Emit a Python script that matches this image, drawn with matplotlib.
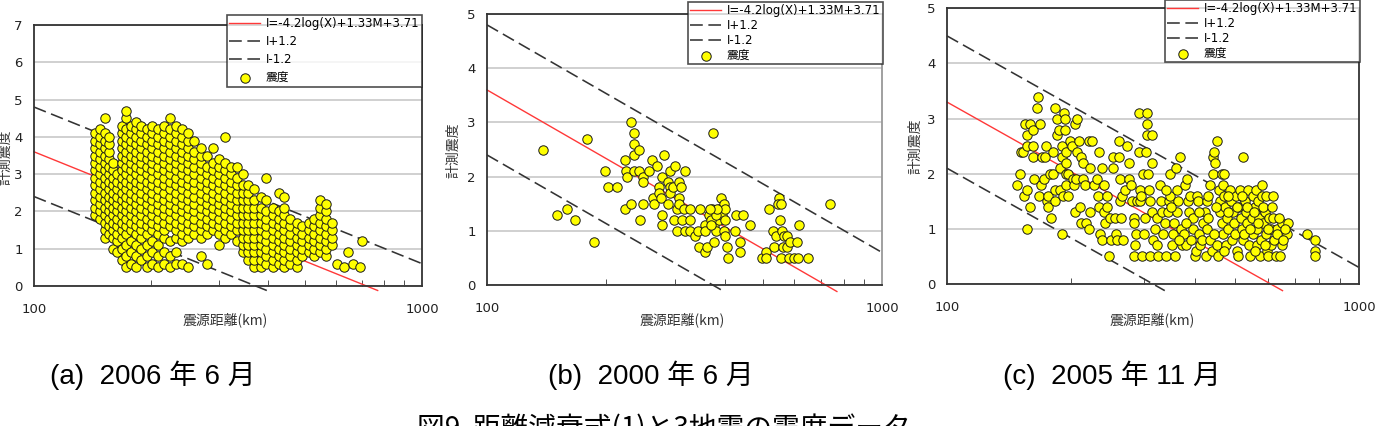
import numpy as np
import matplotlib
matplotlib.use('Agg')
from matplotlib import pyplot as plt
from matplotlib.ticker import FixedLocator, NullFormatter

# ---- data: hypocentral distance (km) and seismic intensity
# (a) 2006-06 : dense cloud, listed per distance column
a_cols = [
    (144, [1.9, 2.1, 2.3, 2.5, 2.7, 2.9, 3.1, 3.3, 3.5, 3.7, 3.9, 4.1]),
    (148, [1.8, 2.0, 2.2, 2.4, 2.6, 2.8, 3.0, 3.2, 3.4, 3.6, 3.8, 4.0, 4.2]),
    (152, [1.3, 1.5, 1.7, 1.9, 2.1, 2.3, 2.5, 2.7, 2.9, 3.1, 3.3, 3.5, 3.7, 3.9, 4.1, 4.5]),
    (156, [1.4, 1.6, 1.8, 2.0, 2.2, 2.4, 2.6, 2.8, 3.0, 3.2, 3.4, 3.6, 3.8, 4.0]),
    (160, [1.0, 1.3, 1.5, 1.7, 1.9, 2.1, 2.3, 2.5, 2.7, 2.9, 3.1, 3.3]),
    (164, [0.9, 1.2, 1.4, 1.6, 1.8, 2.0, 2.2, 2.4, 2.6, 2.8, 3.0]),
    (169, [0.7, 1.0, 1.3, 1.5, 1.7, 1.9, 2.1, 2.3, 2.5, 2.7, 2.9, 3.1, 3.3, 3.5, 3.7, 3.9, 4.1, 4.3]),
    (173, [0.5, 0.8, 1.1, 1.4, 1.6, 1.8, 2.0, 2.2, 2.4, 2.6, 2.8, 3.0, 3.2, 3.4, 3.6, 3.8, 4.0, 4.2, 4.5, 4.7]),
    (178, [0.6, 0.9, 1.2, 1.5, 1.7, 1.9, 2.1, 2.3, 2.5, 2.7, 2.9, 3.1, 3.3, 3.5, 3.7, 3.9, 4.1, 4.3]),
    (183, [0.5, 0.8, 1.1, 1.4, 1.6, 1.8, 2.0, 2.2, 2.4, 2.6, 2.8, 3.0, 3.2, 3.4, 3.6, 3.8, 4.0, 4.2, 4.4]),
    (189, [0.7, 1.0, 1.3, 1.5, 1.7, 1.9, 2.1, 2.3, 2.5, 2.7, 2.9, 3.1, 3.3, 3.5, 3.7, 3.9, 4.1, 4.3]),
    (195, [0.5, 0.8, 1.1, 1.4, 1.6, 1.8, 2.0, 2.2, 2.4, 2.6, 2.8, 3.0, 3.2, 3.4, 3.6, 3.8, 4.0, 4.2]),
    (202, [0.6, 0.9, 1.2, 1.5, 1.7, 1.9, 2.1, 2.3, 2.5, 2.7, 2.9, 3.1, 3.3, 3.5, 3.7, 3.9, 4.1, 4.3]),
    (209, [0.5, 0.8, 1.1, 1.4, 1.6, 1.8, 2.0, 2.2, 2.4, 2.6, 2.8, 3.0, 3.2, 3.4, 3.6, 3.8, 4.0, 4.2]),
    (216, [0.6, 0.9, 1.3, 1.5, 1.7, 1.9, 2.1, 2.3, 2.5, 2.7, 2.9, 3.1, 3.3, 3.5, 3.7, 3.9, 4.1, 4.3]),
    (224, [0.5, 0.8, 1.2, 1.6, 1.8, 2.0, 2.2, 2.4, 2.6, 2.8, 3.0, 3.2, 3.4, 3.6, 3.8, 4.0, 4.2, 4.5]),
    (232, [0.6, 0.9, 1.3, 1.5, 1.7, 1.9, 2.1, 2.3, 2.5, 2.7, 2.9, 3.1, 3.3, 3.5, 3.7, 3.9, 4.1, 4.3]),
    (241, [0.6, 1.2, 1.4, 1.6, 1.8, 2.0, 2.2, 2.4, 2.6, 2.8, 3.0, 3.2, 3.4, 3.6, 3.8, 4.0, 4.2]),
    (250, [0.5, 1.3, 1.5, 1.7, 1.9, 2.1, 2.3, 2.5, 2.7, 2.9, 3.1, 3.3, 3.5, 3.7, 3.9, 4.1]),
    (259, [1.4, 1.6, 1.8, 2.0, 2.2, 2.4, 2.6, 2.8, 3.0, 3.2, 3.4, 3.6, 3.9]),
    (269, [0.8, 1.3, 1.5, 1.7, 1.9, 2.1, 2.3, 2.5, 2.7, 2.9, 3.1, 3.3, 3.5, 3.7]),
    (279, [0.6, 1.4, 1.6, 1.8, 2.0, 2.2, 2.4, 2.6, 2.8, 3.0, 3.2, 3.5]),
    (289, [1.5, 1.7, 1.9, 2.1, 2.3, 2.5, 2.7, 2.9, 3.1, 3.3, 3.7]),
    (299, [1.1, 1.4, 1.6, 1.8, 2.0, 2.2, 2.4, 2.6, 2.8, 3.0, 3.2, 3.4]),
    (310, [1.3, 1.5, 1.7, 1.9, 2.1, 2.3, 2.5, 2.7, 2.9, 3.1, 3.3, 4.0]),
    (321, [1.4, 1.6, 1.8, 2.0, 2.2, 2.4, 2.6, 2.8, 3.0, 3.2]),
    (333, [1.2, 1.5, 1.7, 1.9, 2.1, 2.3, 2.5, 2.7, 2.9, 3.2]),
    (345, [0.9, 1.1, 1.3, 1.5, 1.7, 1.9, 2.1, 2.3, 2.5, 2.7, 3.0]),
    (357, [0.7, 0.9, 1.1, 1.3, 1.5, 1.7, 1.9, 2.1, 2.3, 2.5, 2.7]),
    (370, [0.5, 0.7, 0.9, 1.1, 1.3, 1.5, 1.7, 1.9, 2.1, 2.3, 2.6]),
    (384, [0.5, 0.7, 0.9, 1.1, 1.3, 1.5, 1.7, 1.9, 2.1, 2.4]),
    (397, [0.6, 0.8, 1.0, 1.2, 1.4, 1.6, 1.8, 2.0, 2.3, 2.9]),
    (412, [0.5, 0.7, 0.9, 1.1, 1.3, 1.5, 1.7, 1.9, 2.1]),
    (427, [0.6, 0.8, 1.0, 1.2, 1.4, 1.6, 1.8, 2.0, 2.5]),
    (442, [0.5, 0.7, 0.9, 1.1, 1.3, 1.5, 1.7, 1.9, 2.1, 2.4]),
    (458, [0.6, 0.8, 1.0, 1.2, 1.4, 1.6, 1.8]),
    (475, [0.5, 0.7, 0.9, 1.1, 1.3, 1.5, 1.7]),
    (492, [0.8, 1.0, 1.2, 1.4, 1.6]),
    (510, [0.9, 1.1, 1.3, 1.5, 1.7]),
    (528, [0.8, 1.0, 1.2, 1.4, 1.6, 1.8]),
    (547, [0.9, 1.1, 1.3, 1.5, 1.7, 1.9, 2.1, 2.3]),
    (567, [0.8, 1.0, 1.2, 1.4, 1.6, 1.8, 2.0, 2.2]),
    (587, [1.1, 1.3, 1.5, 1.7]),
    (605, [0.6]), (628, [0.5]), (646, [0.9]), (665, [0.6]), (693, [0.5]), (702, [1.2]),
]

# (b) 2000-06
b_pts = [
    (139, 2.5), (150, 1.3), (159, 1.4), (167, 1.2), (179, 2.7), (187, 0.8), (199, 2.1),
    (202, 1.8), (213, 1.8), (223, 2.3), (225, 2.1), (226, 2.0), (223, 1.4), (231, 3.0),
    (235, 2.8), (236, 2.6), (235, 2.4), (243, 2.5), (231, 1.5), (236, 2.1), (242, 2.1),
    (244, 1.2), (248, 2.0), (248, 1.9), (248, 1.5), (257, 2.1), (261, 2.3), (263, 1.6),
    (264, 1.5), (269, 2.2), (272, 1.8), (272, 1.7), (276, 1.6), (278, 2.0), (281, 2.4),
    (278, 1.3), (278, 1.1), (288, 1.9), (288, 1.5), (290, 1.8), (291, 1.7), (290, 2.1),
    (299, 2.2), (295, 1.8), (297, 1.2), (302, 1.4), (303, 1.0), (306, 1.9), (307, 1.6),
    (309, 1.8), (306, 1.5), (312, 1.2), (315, 1.4), (317, 2.1), (317, 1.0), (327, 1.4),
    (327, 1.2), (326, 1.0), (336, 0.9), (342, 1.0), (345, 0.7), (347, 1.4), (356, 1.1),
    (356, 0.6), (361, 0.7), (357, 1.0), (373, 2.8), (371, 1.4), (375, 1.3), (371, 1.2),
    (375, 1.1), (375, 0.8), (379, 1.0), (386, 1.4), (387, 1.2), (393, 1.3), (392, 1.6),
    (397, 1.5), (400, 1.4), (401, 1.2), (397, 1.0), (401, 0.9), (405, 0.7), (408, 0.5),
    (365, 1.3), (368, 1.2), (380, 1.3), (383, 1.4), (366, 1.4), (370, 1.1),
    (425, 1.0), (427, 1.3), (445, 1.3), (436, 0.8), (436, 0.6), (464, 1.1), (497, 0.5),
    (509, 0.6), (509, 0.5), (516, 1.4), (529, 1.0), (540, 0.9), (534, 0.7), (548, 1.6),
    (544, 1.5), (555, 1.5), (553, 1.2), (558, 1.0), (564, 0.9), (555, 0.5), (562, 0.7),
    (575, 0.7), (575, 0.9), (586, 0.8), (580, 0.5), (598, 0.5), (609, 0.8), (615, 1.1),
    (613, 0.5), (650, 0.5), (740, 1.5),
]

# (c) 2005-11
c_pts = [
    (148, 1.8), (150, 2.0), (151, 2.4), (153, 2.4), (154, 1.6), (156, 1.7), (155, 2.9),
    (156, 2.7), (156, 2.5), (156, 1.0), (159, 2.9), (159, 1.4), (162, 2.8), (162, 2.5),
    (162, 2.3), (163, 1.9), (165, 3.2), (166, 3.4), (167, 1.6), (168, 2.9), (170, 2.3),
    (169, 1.8), (172, 1.9), (173, 2.3), (174, 2.5), (175, 1.5), (176, 1.6), (176, 1.4),
    (178, 2.0), (179, 1.2), (181, 2.4), (181, 2.0), (183, 3.2), (183, 1.5), (183, 1.7),
    (185, 3.0), (185, 2.7), (187, 2.8), (188, 1.7), (188, 2.1), (190, 2.5), (190, 2.3),
    (190, 0.9), (191, 1.6), (192, 3.1), (193, 3.0), (193, 2.8), (194, 2.0), (195, 1.8),
    (195, 2.4), (195, 2.2), (197, 2.0), (197, 1.6), (199, 2.6), (201, 2.5), (202, 1.9),
    (203, 1.8), (204, 1.3), (205, 2.9), (206, 1.9), (207, 2.4), (207, 3.0), (209, 2.6),
    (210, 1.4), (211, 1.1), (212, 2.3), (214, 1.9), (214, 2.2), (216, 1.8), (218, 1.1),
    (221, 1.0), (221, 2.6), (223, 2.1), (223, 1.3), (225, 2.6), (227, 1.8), (231, 1.9),
    (233, 1.6), (234, 2.4), (234, 1.4), (235, 0.9), (238, 2.1), (238, 0.8), (240, 1.8),
    (241, 1.3), (242, 1.1), (244, 1.4), (245, 1.6), (247, 0.5), (248, 1.2), (250, 0.8),
    (253, 2.3), (253, 2.1), (256, 1.2), (257, 0.9), (258, 0.8), (261, 2.3), (262, 2.6),
    (263, 1.9), (263, 1.5), (264, 1.2), (266, 1.6), (268, 0.8), (271, 1.7), (273, 2.5),
    (276, 1.9), (277, 2.2), (279, 1.8), (281, 1.5), (284, 1.2), (285, 1.1), (286, 0.7),
    (284, 0.5), (288, 0.9), (289, 1.5), (292, 2.4), (292, 3.1), (294, 1.7), (294, 1.5),
    (295, 1.6), (297, 0.5), (299, 2.0), (300, 0.9), (303, 1.2), (304, 2.4), (305, 3.1),
    (305, 2.9), (306, 2.7), (308, 2.0), (310, 1.7), (311, 1.5), (311, 0.5), (314, 2.7),
    (314, 2.2), (314, 1.3), (317, 0.8), (320, 1.0), (323, 1.2), (324, 0.7), (326, 0.5),
    (329, 1.8), (330, 1.5), (332, 1.3), (334, 0.9), (338, 1.1), (341, 0.5), (343, 1.3),
    (345, 1.5), (347, 2.0), (348, 1.6), (351, 0.7), (353, 0.9), (356, 1.1), (358, 0.5),
    (359, 2.1), (361, 1.3), (362, 1.7), (364, 1.5), (368, 2.3), (369, 1.0), (371, 0.7),
    (375, 0.9), (378, 1.8), (380, 0.7), (382, 1.9), (385, 1.5), (387, 1.3), (389, 1.6),
    (392, 0.8), (396, 1.0), (400, 0.5), (402, 0.6), (404, 1.6), (407, 1.5), (410, 0.9),
    (411, 0.7), (415, 0.8), (419, 1.1), (423, 1.3), (425, 0.5), (427, 1.5), (428, 1.0),
    (431, 1.6), (435, 0.8), (436, 1.8), (439, 0.6), (441, 2.0), (441, 2.3), (445, 2.4),
    (447, 2.2), (451, 0.7), (453, 2.6), (455, 0.5), (458, 1.7), (460, 1.5), (461, 1.3),
    (464, 2.0), (464, 1.1), (467, 0.9), (468, 1.8), (470, 1.6), (473, 1.4), (475, 0.7),
    (477, 1.2), (482, 1.0), (486, 1.7), (488, 1.5), (491, 0.8), (495, 1.3), (497, 1.1),
    (500, 0.9), (503, 1.6), (505, 0.6), (509, 0.5), (512, 1.4), (514, 1.7), (516, 1.2),
    (519, 1.0), (522, 2.3), (524, 0.8), (529, 1.5), (532, 1.3), (534, 1.1), (539, 1.7),
    (542, 0.7), (544, 0.5), (549, 1.2), (552, 1.6), (554, 0.9), (559, 1.4), (562, 1.7),
    (564, 1.0), (566, 0.7), (569, 1.5), (573, 1.2), (575, 0.5), (577, 0.8), (580, 1.8),
    (580, 1.6), (586, 1.1), (591, 1.3), (596, 0.9), (599, 0.6), (602, 0.5), (605, 1.2),
    (610, 1.0), (613, 0.7), (619, 1.2), (621, 0.8), (628, 0.5), (631, 1.0), (633, 0.9),
    (643, 0.5), (649, 0.7), (649, 1.1), (667, 0.9), (673, 1.1), (746, 0.9), (781, 0.8),
    (781, 0.6), (781, 0.5),
    (430, 1.2), (445, 0.9), (450, 1.4), (470, 0.6), (480, 1.3), (505, 1.4), (520, 1.6),
    (525, 0.9), (535, 1.4), (545, 1.0), (555, 1.3), (560, 0.6), (570, 1.1), (585, 1.4),
    (590, 0.7), (595, 1.6), (600, 1.0), (615, 1.4), (620, 1.6), (640, 1.2), (655, 0.8),
    (660, 1.0), (395, 1.2), (410, 1.3), (380, 1.1), (365, 0.8), (350, 1.4), (340, 1.7),
    (470, 2.0), (482, 1.6),
]

# attenuation formula I = -4.2 log(X) + const ; value at X = 100 km per quake
slope = -4.2
i_at_100 = [3.6, 3.6, 3.3]
band = 1.2
y_tops = [7, 5, 5]

legend_labels = ['I=-4.2log(X)+1.33M+3.71', 'I+1.2', 'I-1.2', '震度']
captions = ['(a)  2006 年 6 月', '(b)  2000 年 6 月', '(c)  2005 年 11 月']
title = '図9  距離減衰式(1)と3地震の震度データ'

a_dist = [d for d, vals in a_cols for v in vals]
a_int = [v for d, vals in a_cols for v in vals]
b_dist, b_int = zip(*b_pts)
c_dist, c_int = zip(*c_pts)
panels = [(a_dist, a_int), (b_dist, b_int), (c_dist, c_int)]

# layout (figure fractions)
rects = [[0.0246, 0.3286, 0.2810, 0.6127],
         [0.3526, 0.3310, 0.2861, 0.6361],
         [0.6857, 0.3333, 0.2984, 0.6472]]
leg_anchor = [(0.1644, 0.9648), (0.4982, 0.9953), (0.8436, 1.0)]
leg_space = [0.42, 0.15, 0.15]
ylab_x = [-0.001, 0.3235, 0.6575]
ylab_y = [0.63, 0.648, 0.657]
xlab_x = [0.163, 0.494, 0.834]
cap_x = [0.036, 0.397, 0.726]

jp = 'Noto Sans CJK JP'
sans = ['DejaVu Sans', jp]

fig = plt.figure(figsize=(13.81, 4.26), dpi=100)

for k in range(3):
    ax = fig.add_axes(rects[k])
    km, inten = panels[k]
    c0 = i_at_100[k] - slope * 2

    handles = []
    for off, col, ls, lw in [(0, '#ff3838', '-', 1.0), (band, '#333333', (0, (8, 3.5)), 1.15),
                             (-band, '#333333', (0, (8, 3.5)), 1.15)]:
        x_end = min(1000, 10 ** ((c0 + off + 0.12) / -slope))
        xs = np.array([100, x_end])
        ys = c0 + off + slope * np.log10(xs)
        ln, = ax.plot(xs, ys, color=col, ls=ls, lw=lw, zorder=2, clip_on=False)
        handles.append(ln)

    sc = ax.scatter(km, inten, s=46, c='#ffff00', edgecolors='#1a1a1a',
                    linewidths=0.7, zorder=3)
    handles.append(sc)

    ax.set_xscale('log')
    ax.set_xlim(100, 1000)
    ax.set_ylim(0, y_tops[k])
    ax.set_xticks([100, 1000])
    ax.set_xticklabels(['100', '1000'])
    ax.xaxis.set_minor_locator(FixedLocator(range(200, 1000, 100)))
    ax.xaxis.set_minor_formatter(NullFormatter())
    ax.set_yticks(range(y_tops[k] + 1))
    ax.tick_params(axis='x', which='major', length=0, pad=12)
    ax.tick_params(axis='x', which='minor', direction='in', length=4, color='#333333')
    ax.tick_params(axis='y', length=0, pad=8)
    for lab in ax.get_xticklabels() + ax.get_yticklabels():
        lab.set_family(sans)
        lab.set_fontsize(9.5)
        lab.set_color('#222222')
    ax.yaxis.grid(True, color='#c8c8c8', lw=1.2)
    ax.set_axisbelow(True)
    for sp in ax.spines.values():
        sp.set_color('#333333')
        sp.set_linewidth(1.3)
    if k == 1:
        ax.spines['right'].set_color('#999999')

    leg = ax.legend(handles, legend_labels, loc='upper left', bbox_to_anchor=leg_anchor[k],
                    bbox_transform=fig.transFigure, fancybox=False, borderaxespad=0,
                    borderpad=0.2, labelspacing=leg_space[k], handlelength=2.6,
                    handletextpad=0.5, scatterpoints=1,
                    prop={'family': sans, 'size': 8.5})
    leg.get_frame().set_edgecolor('#222222')
    leg.get_frame().set_linewidth(1.2)
    leg.set_zorder(5)

    fig.text(ylab_x[k], ylab_y[k], '計測震度', rotation=90, ha='left', va='center',
             fontsize=10, family=jp, color='#333333')
    fig.text(xlab_x[k], 1 - 320 / 426, '震源距離(km)', ha='center', va='center',
             fontsize=10, family=jp, color='#333333')
    fig.text(cap_x[k], 1 - 375 / 426, captions[k], ha='left', va='center',
             fontsize=20, family=['Liberation Sans', jp])

fig.text(0.4804, 0.028, title, ha='center', va='top', fontsize=20, family=jp)

fig.savefig('out.png', dpi=100)
